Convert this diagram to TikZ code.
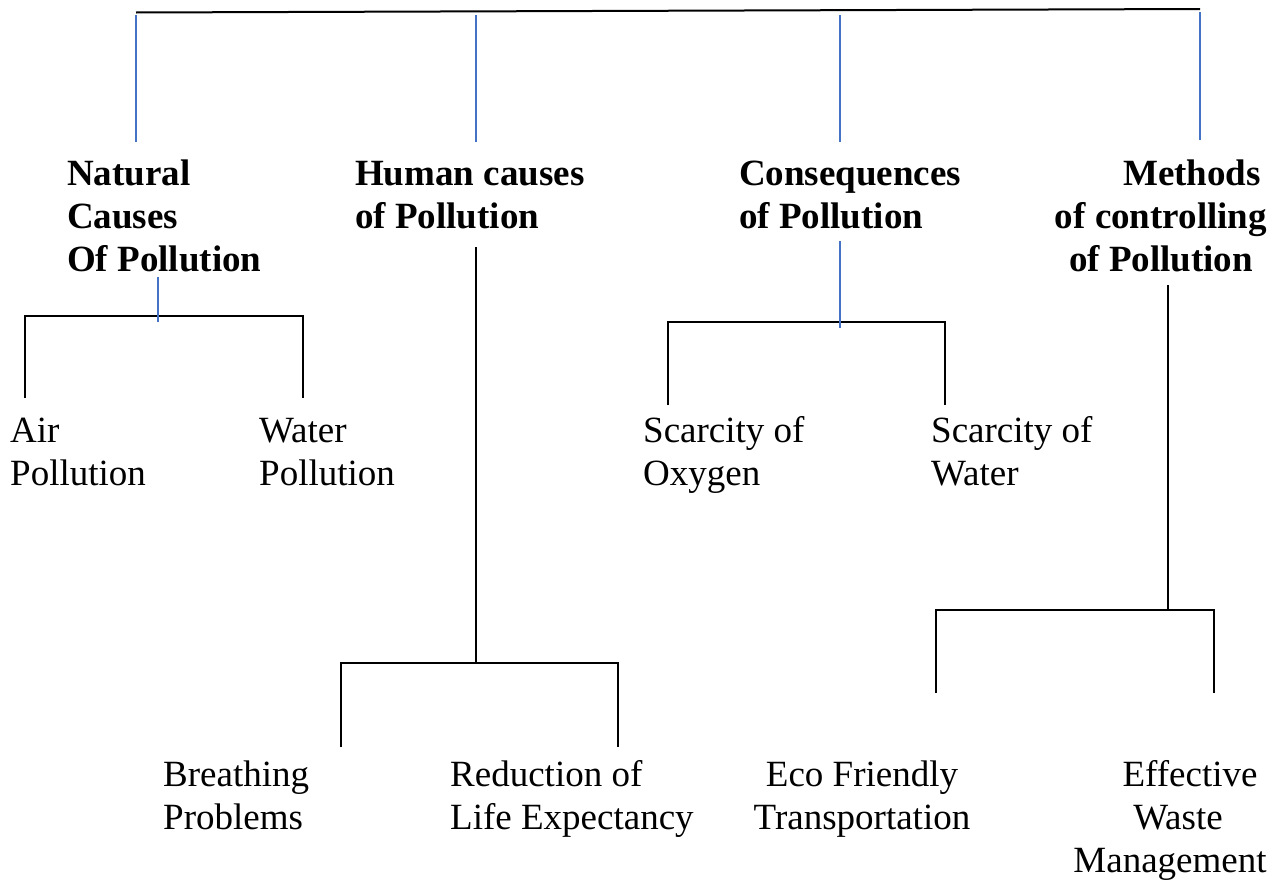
\documentclass[tikz,border=0pt]{standalone}
\usepackage{fontspec}
\setmainfont{Liberation Serif}
\definecolor{wordblue}{RGB}{68,114,196}
\tikzset{
  heading/.style={font=\fontsize{37}{43}\selectfont\bfseries, inner sep=0pt, align=left, anchor=base west},
  headc/.style={font=\fontsize{37}{43}\selectfont\bfseries, inner sep=0pt, align=center, anchor=base},
  leaf/.style={font=\fontsize{37}{43}\selectfont, inner sep=0pt, align=left, anchor=base west},
  leafc/.style={font=\fontsize{37}{43}\selectfont, inner sep=0pt, align=center, anchor=base},
  blackline/.style={draw=black, line width=2pt},
  blueline/.style={draw=wordblue, line width=1.5pt},
}
\begin{document}
\begin{tikzpicture}[x=1pt,y=-1pt]
\useasboundingbox (0,0) rectangle (1282,881);
% headings (anchor = baseline of last line)
\node[heading] (nat) at (67,271) {Natural\\Causes\\Of Pollution};
\node[heading] (hum) at (355,228) {Human causes\\of Pollution};
\node[heading] (con) at (739,228) {Consequences\\of Pollution};
\node[headc] (met) at (1161,271) {\hspace*{62pt}Methods\\of controlling\\of Pollution};
% leaves
\node[leaf] (air) at (10,485) {Air\\Pollution};
\node[leaf] (wat) at (259,485) {Water\\Pollution};
\node[leaf] (oxy) at (643,485) {Scarcity of\\Oxygen};
\node[leaf] (scw) at (931,485) {Scarcity of\\Water};
\node[leaf] (bre) at (163,829) {Breathing\\Problems};
\node[leaf] (red) at (450,829) {Reduction of\\Life Expectancy};
\node[leafc] (eco) at (862,829) {Eco Friendly\\Transportation};
\node[leafc] (eff) at (1170,872) {\hspace*{40pt}Effective\\\hspace*{16pt}Waste\\Management};
% coordinates
\coordinate (topL) at (136,12.5);
\coordinate (topR) at (1200,9);
\coordinate (b1s) at (136,15);  \coordinate (b1e) at (136,142);
\coordinate (b2s) at (476,15);  \coordinate (b2e) at (476,142);
\coordinate (b3s) at (840,15);  \coordinate (b3e) at (840,142);
\coordinate (b4s) at (1200,12); \coordinate (b4e) at (1200,140);
\coordinate (natS) at (158,277); \coordinate (natJ) at (158,322);
\coordinate (natL) at (25,316); \coordinate (natR) at (303,316);
\coordinate (airT) at (25,398); \coordinate (watT) at (303,398);
\coordinate (humS) at (476,247); \coordinate (humJ) at (476,663);
\coordinate (humL) at (341,663); \coordinate (humR) at (618,663);
\coordinate (breT) at (341,747); \coordinate (redT) at (618,747);
\coordinate (conS) at (840,241); \coordinate (conJ) at (840,328);
\coordinate (conL) at (668,322); \coordinate (conR) at (945,322);
\coordinate (oxyT) at (668,405); \coordinate (scwT) at (945,405);
\coordinate (metS) at (1168,285); \coordinate (metJ) at (1168,610);
\coordinate (metL) at (936,610); \coordinate (metR) at (1214,610);
\coordinate (ecoT) at (936,693); \coordinate (effT) at (1214,693);
% top bar
\draw[blackline] (topL) -- (topR);
\draw[blueline] (b1s) -- (b1e);
\draw[blueline] (b2s) -- (b2e);
\draw[blueline] (b3s) -- (b3e);
\draw[blueline] (b4s) -- (b4e);
% natural
\draw[blackline] (airT) -- (natL) -- (natR) -- (watT);
\draw[blueline] (natS) -- (natJ);
% human
\draw[blackline] (humS) -- (humJ);
\draw[blackline] (breT) -- (humL) -- (humR) -- (redT);
% consequences
\draw[blackline] (oxyT) -- (conL) -- (conR) -- (scwT);
\draw[blueline] (conS) -- (conJ);
% methods
\draw[blackline] (metS) -- (metJ);
\draw[blackline] (ecoT) -- (metL) -- (metR) -- (effT);
\end{tikzpicture}
\end{document}
